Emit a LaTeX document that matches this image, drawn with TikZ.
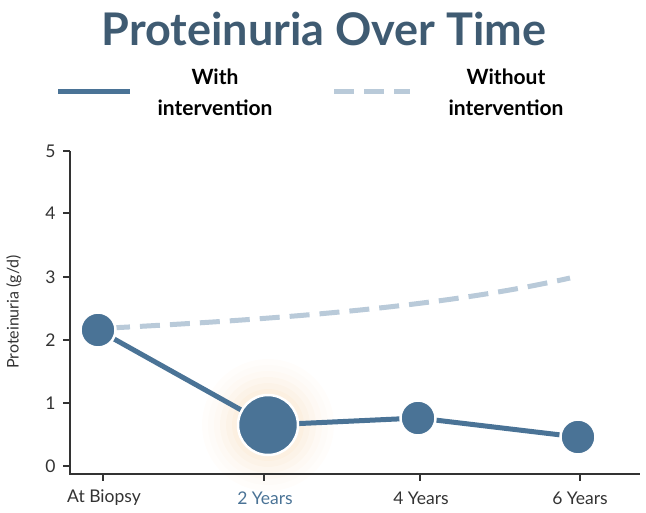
\documentclass[tikz,border=0pt]{standalone}
\usepackage{fontspec}
\setmainfont{Lato}
\definecolor{ttl}{HTML}{3F5B72}
\definecolor{ln}{HTML}{4A7396}
\definecolor{dsh}{HTML}{B9CAD9}
\definecolor{glow}{HTML}{F2C48A}
\definecolor{ax}{HTML}{333333}
\begin{document}
\begin{tikzpicture}[x=1pt,y=-1pt,
  dot/.style={circle,fill=ln,draw=white,line width=2.5pt,inner sep=0pt,minimum size=#1},
  tk/.style={font=\fontsize{17.5}{20}\selectfont,text=ax},
  leg/.style={font=\fontsize{21}{31}\selectfont\bfseries,align=center,text=black}]
\useasboundingbox (0,0) rectangle (646,512);
\node[font=\fontsize{45}{48}\selectfont\bfseries,text=ttl] (title) at (324,29) {Proteinuria Over Time};
\draw[ln,line width=5pt] (58,91) -- (130,91);
\node[leg] (l1) at (215,92) {With\\intervention};
\draw[dsh,line width=5pt,dash pattern=on 20pt off 10pt] (334,91) -- (410,91);
\node[leg] (l2) at (506,92) {Without\\intervention};
% glow
\foreach \r/\o in {66/0.03,60/0.03,54/0.04,48/0.05,42/0.06,36/0.08}{\fill[glow,opacity=\o] (268,425) circle (\r);}
% axes
\draw[ax,line width=1.3pt] (70,151) -- (70,474) -- (640,474);
\foreach \v/\y in {5/151,4/213,3/277,2/340,1/403,0/466}{
  \draw[ax,line width=1.3pt] (63,\y) -- (70,\y);
  \node[tk,anchor=east] at (59,\y) {\v};}
\foreach \x in {103,264,420,580}{\draw[ax,line width=1.3pt] (\x,474) -- (\x,481);}
\node[tk] (x1) at (104,498) {At Biopsy};
\node[tk,text=ln] (x2) at (265,498) {2 Years};
\node[tk] (x3) at (421,498) {4 Years};
\node[tk] (x4) at (580,498) {6 Years};
\node[tk,rotate=90,font=\fontsize{16}{18}\selectfont] (yl) at (14,312) {Proteinuria (g/d)};
% dashed
\draw[dsh,line width=5pt,dash pattern=on 20pt off 10pt] (110,328) .. controls (300,318) and (450,305) .. (570,278);
% solid
\draw[ln,line width=5pt] (98,330) -- (268,425) -- (418,418) -- (578,437);
\node[dot=60pt] (p2) at (268,425) {};
\node[dot=35pt] (p1) at (98,330) {};
\node[dot=35pt] (p3) at (418,418) {};
\node[dot=35pt] (p4) at (578,437) {};
\end{tikzpicture}
\end{document}
